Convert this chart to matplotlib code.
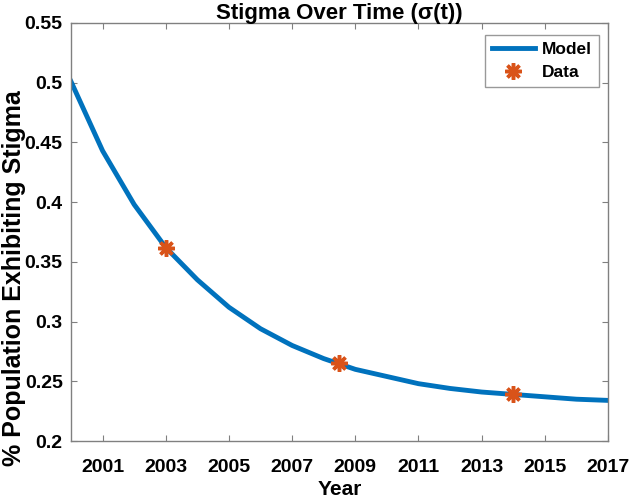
import matplotlib
matplotlib.use("Agg")
import matplotlib.pyplot as plt

years = [2000, 2001, 2002, 2003, 2004, 2005, 2006, 2007, 2008, 2009,
         2010, 2011, 2012, 2013, 2014, 2015, 2016, 2017]
model = [0.501, 0.443, 0.398, 0.362, 0.335, 0.312, 0.294, 0.280, 0.269, 0.260,
         0.254, 0.248, 0.244, 0.241, 0.239, 0.237, 0.235, 0.234]
data_years = [2003, 2008.5, 2014]
data_vals = [0.362, 0.265, 0.239]
xticks = [2001, 2003, 2005, 2007, 2009, 2011, 2013, 2015, 2017]
yticks = [0.2, 0.25, 0.3, 0.35, 0.4, 0.45, 0.5, 0.55]
ytick_labels = ["0.2", "0.25", "0.3", "0.35", "0.4", "0.45", "0.5", "0.55"]

plt.rcParams['font.family'] = ['Liberation Sans', 'DejaVu Sans']
plt.rcParams['font.weight'] = 'bold'

W, H = 629, 499
fig = plt.figure(figsize=(W / 100, H / 100), dpi=100)
L, R, T, B = 71, 608, 23, 441
ax = fig.add_axes([L / W, 1 - B / H, (R - L) / W, (B - T) / H])

ax.plot(years, model, color='#0072BD', lw=3.5, label='Model')
ax.plot(data_years, data_vals, ls='none', marker=(8, 2, 0), markersize=12,
        markeredgewidth=2.5, color='#D95319', markeredgecolor='#D95319', label='Data')

ax.set_xlim(2000, 2017)
ax.set_ylim(0.2, 0.55)
ax.set_xticks(xticks)
ax.set_yticks(yticks)
ax.set_yticklabels(ytick_labels)
ax.tick_params(direction='in', top=True, right=True, length=4, width=0.8,
               color='#808080', labelsize=14, labelcolor='black')
ax.tick_params(axis='x', pad=13)
ax.tick_params(axis='y', pad=6)
for lab in ax.get_xticklabels() + ax.get_yticklabels():
    lab.set_fontweight('bold')
for s in ax.spines.values():
    s.set_color('#808080')
    s.set_linewidth(1.0)

ax.set_title('Stigma Over Time (σ(t))', fontsize=16, fontweight='bold', pad=3)
ax.set_xlabel('Year', fontsize=15, fontweight='bold', labelpad=3)
ax.set_ylabel('% Population Exhibiting Stigma', fontsize=18, fontweight='bold')
ax.yaxis.set_label_coords(-0.084, 0.39)

leg = ax.legend(loc='upper right', fontsize=12.5, frameon=True, fancybox=False,
                edgecolor='#808080', handlelength=2.5, handletextpad=0.4,
                borderpad=0.4, labelspacing=0.45, borderaxespad=0,
                bbox_to_anchor=(0.983, 0.971))
leg.get_frame().set_linewidth(1.0)
for t in leg.get_texts():
    t.set_fontweight('bold')

fig.savefig('out.png', dpi=100)
